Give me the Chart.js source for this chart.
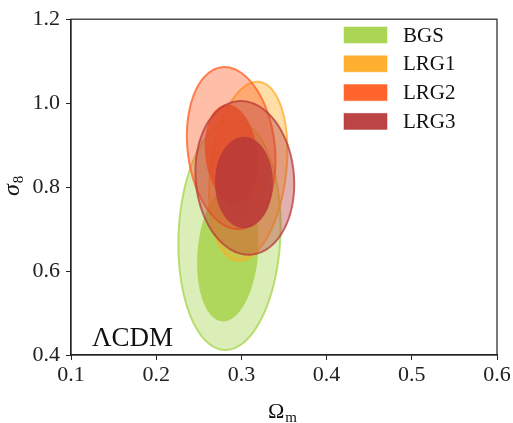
<!DOCTYPE html>
<html>
<head>
<meta charset="utf-8">
<script src="https://cdn.jsdelivr.net/npm/chart.js@4.4.1/dist/chart.umd.min.js"></script>
<style>
  html, body { margin: 0; padding: 0; background: #fff; }
  #wrap { width: 513px; height: 423px; }
</style>
</head>
<body>
<div id="wrap"><canvas id="contours"></canvas></div>
<script>
    // samples and their colours
    const samples = ['BGS', 'LRG1', 'LRG2', 'LRG3'];
    const colours = [[166, 212, 76], [255, 172, 38], [255, 93, 34], [184, 58, 58]];

    // 2-sigma contours: centre, half-extent in each parameter, tilt (correlation)
    const outerOm  = [0.286, 0.308, 0.288, 0.304];
    const outerS8  = [0.686, 0.838, 0.893, 0.822];
    const outerDOm = [0.060, 0.046, 0.052, 0.058];
    const outerDS8 = [0.274, 0.213, 0.193, 0.183];
    const outerRho = [0.08, 0.23, -0.15, -0.08];

    // 1-sigma contours
    const innerOm  = [0.284, 0.305, 0.288, 0.303];
    const innerS8  = [0.643, 0.818, 0.879, 0.811];
    const innerDOm = [0.036, 0.025, 0.031, 0.034];
    const innerDS8 = [0.163, 0.095, 0.118, 0.109];
    const innerRho = [0.15, 0.15, -0.15, 0.0];

    const xTicks = [0.1, 0.2, 0.3, 0.4, 0.5, 0.6];
    const yTicks = [0.4, 0.6, 0.8, 1.0, 1.2];

    const modelLabel = '\u039BCDM';
    const serif = "'Liberation Serif', 'DejaVu Serif', serif";

    function rgba(c, a) {
      return 'rgba(' + c[0] + ',' + c[1] + ',' + c[2] + ',' + a + ')';
    }

    function ellipsePath(ctx, xs, ys, cx, cy, dx, dy, rho) {
      const q = Math.sqrt(1 - rho * rho);
      ctx.beginPath();
      for (let i = 0; i <= 180; i++) {
        const t = 2 * Math.PI * i / 180;
        const px = xs.getPixelForValue(cx + dx * Math.cos(t));
        const py = ys.getPixelForValue(cy + dy * (rho * Math.cos(t) + q * Math.sin(t)));
        if (i === 0) ctx.moveTo(px, py); else ctx.lineTo(px, py);
      }
      ctx.closePath();
    }

    // symbol with a roman subscript, drawn from the left edge x
    function subLabel(ctx, sym, symFont, sub, x, y) {
      ctx.font = symFont;
      ctx.fillText(sym, x, y);
      const w = ctx.measureText(sym).width;
      ctx.font = '15px ' + serif;
      ctx.fillText(sub, x + w + 1, y + 4);
    }

    const contourPlugin = {
      id: 'contours',
      beforeDatasetsDraw(chart) {
        const ctx = chart.ctx, xs = chart.scales.x, ys = chart.scales.y, a = chart.chartArea;
        ctx.save();
        ctx.beginPath();
        ctx.rect(a.left, a.top, a.right - a.left, a.bottom - a.top);
        ctx.clip();
        for (let i = 0; i < samples.length; i++) {
          const c = colours[i];
          ellipsePath(ctx, xs, ys, outerOm[i], outerS8[i], outerDOm[i], outerDS8[i], outerRho[i]);
          ctx.fillStyle = rgba(c, 0.4);
          ctx.fill();
          ctx.lineWidth = 2;
          ctx.strokeStyle = rgba(c, 0.75);
          ctx.stroke();
          ellipsePath(ctx, xs, ys, innerOm[i], innerS8[i], innerDOm[i], innerDS8[i], innerRho[i]);
          ctx.fillStyle = rgba(c, 0.85);
          ctx.fill();
        }
        ctx.restore();
      },
      afterDraw(chart) {
        const ctx = chart.ctx, a = chart.chartArea;
        ctx.save();
        // frame
        ctx.strokeStyle = '#222';
        ctx.lineWidth = 1.2;
        ctx.strokeRect(a.left, a.top, a.right - a.left, a.bottom - a.top);

        // legend
        ctx.font = '21px ' + serif;
        ctx.textBaseline = 'middle';
        ctx.textAlign = 'left';
        for (let i = 0; i < samples.length; i++) {
          const y = 35 + i * 28.8;
          ctx.fillStyle = rgba(colours[i], 0.95);
          ctx.fillRect(344, y - 8, 43, 16);
          ctx.strokeStyle = rgba(colours[i], 0.5);
          ctx.lineWidth = 1;
          ctx.strokeRect(344, y - 8, 43, 16);
          ctx.fillStyle = '#111';
          ctx.fillText(samples[i], 403, y + 1);
        }

        // model label
        ctx.font = '27px ' + serif;
        ctx.textBaseline = 'alphabetic';
        ctx.fillText(modelLabel, 92, 346);

        // axis titles
        subLabel(ctx, '\u03A9', '22px ' + serif, 'm', 268, 418);

        ctx.translate(19, 186);
        ctx.rotate(-Math.PI / 2);
        subLabel(ctx, '\u03C3', 'italic 24px ' + serif, '8', -10, 0);
        ctx.restore();
      }
    };

    function makeChart() {
      const ctx = document.getElementById('contours').getContext('2d');
      return new Chart(ctx, {
        type: 'scatter',
        data: {
          datasets: samples.map((s, i) => ({
            label: s,
            data: [{ x: outerOm[i], y: outerS8[i] }],
            pointRadius: 0,
            backgroundColor: rgba(colours[i], 1)
          }))
        },
        options: {
          responsive: true,
          maintainAspectRatio: false,
          animation: false,
          layout: { padding: { top: 16, right: 16, left: 0, bottom: 0 } },
          plugins: {
            legend: { display: false },
            tooltip: { enabled: false }
          },
          scales: {
            x: {
              type: 'linear',
              min: 0.1,
              max: 0.6,
              afterBuildTicks: (s) => { s.ticks = xTicks.map(v => ({ value: v })); },
              afterFit: (s) => { s.height = 68; },
              grid: { display: true, drawOnChartArea: false, tickLength: 5, color: '#222' },
              border: { color: '#222', width: 1.2 },
              ticks: {
                padding: 2,
                color: '#222',
                font: { family: serif, size: 22 },
                callback: (v) => v.toFixed(1)
              }
            },
            y: {
              type: 'linear',
              min: 0.4,
              max: 1.2,
              afterBuildTicks: (s) => { s.ticks = yTicks.map(v => ({ value: v })); },
              afterFit: (s) => { s.width = 71; },
              grid: { display: true, drawOnChartArea: false, tickLength: 5, color: '#222' },
              border: { color: '#222', width: 1.2 },
              ticks: {
                padding: 6,
                color: '#222',
                font: { family: serif, size: 22 },
                callback: (v) => v.toFixed(1)
              }
            }
          }
        },
        plugins: [contourPlugin]
      });
    }

    document.addEventListener('DOMContentLoaded', function() {
      makeChart();
    });
</script>
</body>
</html>
